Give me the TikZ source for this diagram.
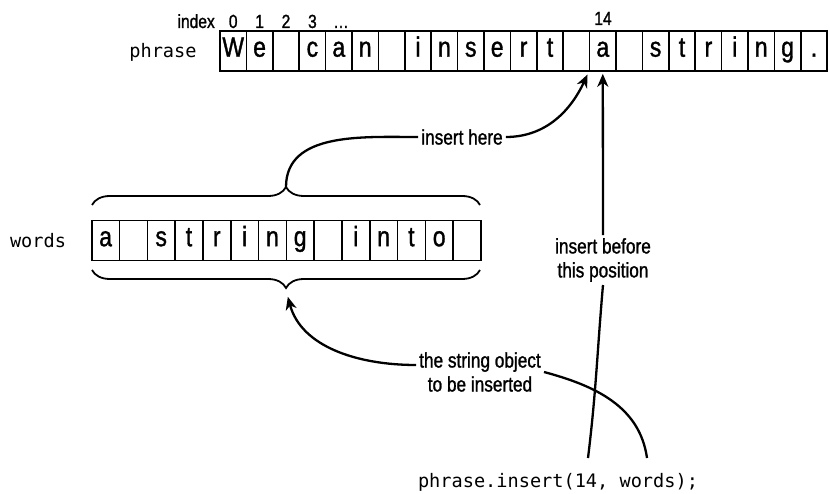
\documentclass[tikz,border=0pt]{standalone}
\usepackage{fontspec}
\newfontfamily\condsf[FakeStretch=0.82,FakeBold=1.2]{Liberation Sans}
\newfontfamily\codett{DejaVu Sans Mono}
\usetikzlibrary{arrows.meta,decorations.pathreplacing}

\begin{document}
\begin{tikzpicture}[x=1pt,y=1pt,
  cell/.style={draw,line width=1.6pt,inner sep=0pt,minimum height=40pt,
    text height=20pt,text depth=8.6pt,font=\condsf\fontsize{28}{28}\selectfont},
  pcell/.style={cell,minimum width=26.4pt},
  wcell/.style={cell,minimum width=27.8pt},
  lab/.style={font=\condsf\fontsize{21}{24}\selectfont,align=center,inner sep=3pt},
  idx/.style={font=\condsf\fontsize{19}{19}\selectfont,anchor=base,inner sep=0pt},
  code/.style={font=\codett\fontsize{18.6}{20}\selectfont,anchor=base,inner sep=0pt},
  link/.style={line width=2.3pt},
  tip/.style={-{Stealth[length=13pt,width=11pt,inset=4pt]}},
  curly/.style={decorate,decoration={brace,amplitude=18pt},line width=1.8pt}]
\useasboundingbox (0,0) rectangle (830,493);
\clip (0,0) rectangle (830,493);

% the two strings
\foreach \c [count=\i from 0] in {W,e,{},c,a,n,{},i,n,s,e,r,t,{},a,{},s,t,r,i,n,g,.}
  \node (p\i) at (233.2+26.4*\i,442) [pcell] {\c};
\foreach \c [count=\i from 0] in {a,{},s,t,r,i,n,g,{},i,n,t,o,{}}
  \node (w\i) at (105.6+27.8*\i,252.5) [wcell] {\c};

% names and indices
\node (phr) at (163,435) [code] {phrase};
\node (wrd) at (38,245) [code] {words};
\node (idx) at (215,465) [idx,anchor=base east] {index};
\foreach \d in {0,1,2,3}
  \node (i\d) at (233.2+26.4*\d,465) [idx] {\d};
\node (dots) at (341,465) [idx] {\ldots};
\node (i14) at (603,468) [idx] {14};

% braces
\draw[curly] (92,288) -- (480,288);
\draw[curly,decoration={mirror}] (92,223) -- (480,223);
\coordinate (ub) at (286,306);
\coordinate (lb) at (286,203);

% labels
\node (ih) at (462,356) [lab] {insert here};
\node (ib) at (603,233) [lab] {insert before\\this position};
\node (so) at (480,121) [lab] {the string object\\to be inserted};
\node (cd) at (558,6) [code] {phrase.insert(14, words);};
\coordinate (c1) at (588,35);
\coordinate (c2) at (647,35);

\draw[link] (ub) to[out=90,in=180] (ih.west);
\draw[link,tip,shorten >=3pt] (ih.east) to[out=0,in=-115] (p14.south west);
\draw[link,tip,shorten >=2pt] (ib.north) -- (p14.south);
\draw[link] (c1) to[out=83,in=-95] (ib.south);
\draw[link,tip,shorten >=7pt] ([yshift=7pt]so.west) to[out=180,in=-75] (lb);
\draw[link] (so.east) to[out=-15,in=98] (c2);
\end{tikzpicture}
\end{document}
